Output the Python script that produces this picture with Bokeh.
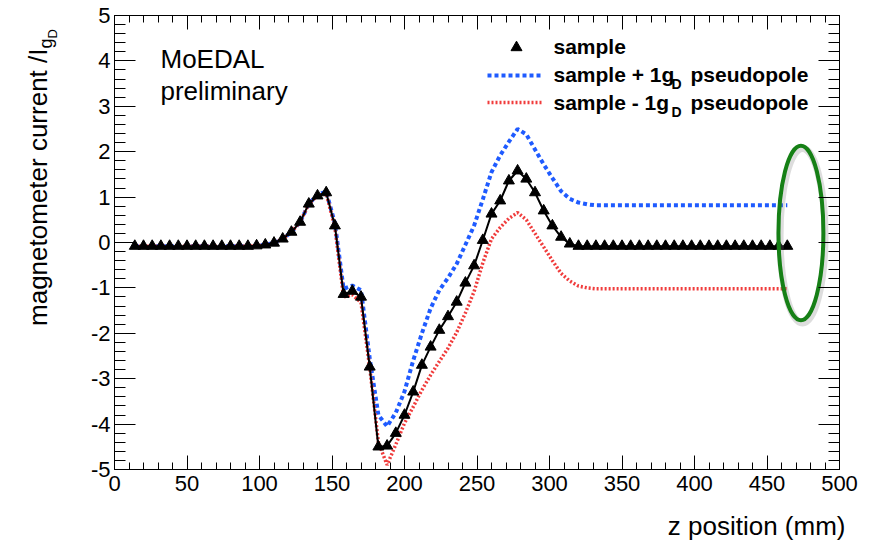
import math
from bokeh.plotting import figure
from bokeh.models import Range1d, LinearAxis, SingleIntervalTicker, Label
from bokeh.embed import file_html
from bokeh.resources import INLINE

# ---------------- data ----------------
z_mm = [14, 20, 26, 32, 38, 44, 50, 56, 62, 68, 74, 80, 86, 92, 98, 104, 110, 116, 122, 128,
        134, 140, 146, 152, 158, 164, 170, 176, 182, 188, 194, 200, 206, 212, 218, 224, 230, 236,
        242, 248, 254, 260, 266, 272, 278, 284, 290, 296, 302, 308, 314, 320, 326, 332, 338, 344,
        350, 356, 362, 368, 374, 380, 386, 392, 398, 404, 410, 416, 422, 428, 434, 440, 446, 452,
        458, 464]

sample = [-0.08, -0.08, -0.08, -0.08, -0.08, -0.08, -0.08, -0.08, -0.08, -0.08, -0.08, -0.08,
          -0.08, -0.08, -0.07, -0.05, -0.01, 0.08, 0.23, 0.45, 0.85, 1.03, 1.10, 0.37, -1.14,
          -1.07, -1.20, -2.74, -4.50, -4.48, -4.20, -3.80, -3.29, -2.70, -2.30, -1.93, -1.63,
          -1.31, -0.89, -0.51, 0.05, 0.63, 0.92, 1.36, 1.58, 1.40, 1.10, 0.70, 0.37, 0.12, -0.03,
          -0.08, -0.08, -0.08, -0.08, -0.08, -0.08, -0.08, -0.08, -0.08, -0.08, -0.08, -0.08,
          -0.08, -0.08, -0.08, -0.08, -0.08, -0.08, -0.08, -0.08, -0.08, -0.08, -0.08, -0.08,
          -0.08]

sample_plus = [-0.08, -0.08, -0.08, -0.08, -0.08, -0.08, -0.08, -0.08, -0.08, -0.08, -0.08, -0.08,
               -0.08, -0.08, -0.07, -0.05, -0.01, 0.08, 0.23, 0.45, 0.85, 1.05, 1.12, 0.42, -1.02,
               -0.95, -1.05, -2.55, -3.80, -4.05, -3.75, -3.28, -2.60, -2.00, -1.45, -1.05, -0.78,
               -0.47, -0.05, 0.37, 0.95, 1.55, 1.92, 2.22, 2.50, 2.38, 2.05, 1.72, 1.42, 1.13, 0.96,
               0.88, 0.84, 0.82, 0.82, 0.82, 0.82, 0.82, 0.82, 0.82, 0.82, 0.82, 0.82, 0.82, 0.82,
               0.82, 0.82, 0.82, 0.82, 0.82, 0.82, 0.82, 0.82, 0.82, 0.82, 0.82]

sample_minus = [-0.08, -0.08, -0.08, -0.08, -0.08, -0.08, -0.08, -0.08, -0.08, -0.08, -0.08, -0.08,
                -0.08, -0.08, -0.07, -0.05, -0.01, 0.08, 0.23, 0.45, 0.85, 1.03, 1.08, 0.33, -1.20,
                -1.15, -1.32, -2.75, -4.40, -4.90, -4.45, -3.98, -3.62, -3.25, -2.92, -2.62, -2.33,
                -1.98, -1.55, -1.08, -0.45, 0.08, 0.33, 0.53, 0.66, 0.50, 0.20, -0.10, -0.40, -0.68,
                -0.85, -0.96, -1.00, -1.02, -1.02, -1.02, -1.02, -1.02, -1.02, -1.02, -1.02, -1.02,
                -1.02, -1.02, -1.02, -1.02, -1.02, -1.02, -1.02, -1.02, -1.02, -1.02, -1.02, -1.02,
                -1.02, -1.02]

x_min, x_max = 0, 500
y_min, y_max = -5, 5
x_tick_labels = {0: "0", 50: "50", 100: "100", 150: "150", 200: "200", 250: "250", 300: "300",
                 350: "350", 400: "400", 450: "450", 500: "500"}
y_tick_labels = {-5: "-5", -4: "-4", -3: "-3", -2: "-2", -1: "-1", 0: "0", 1: "1", 2: "2",
                 3: "3", 4: "4", 5: "5"}

BLUE = "#1f5bff"
RED = "#f03c3c"
GREEN = "#168016"
FONT = "Liberation Sans"

# ---------------- figure ----------------
# the frame covers the whole canvas; the axes are drawn at fixed data locations
W, H = 869, 544
FL, FR, FT, FB = 114, 839, 15, 469          # frame box in pixels
sx = (FR - FL) / (x_max - x_min)
sy = (FB - FT) / (y_max - y_min)
p = figure(width=W, height=H,
           x_range=Range1d(x_min - FL / sx, x_max + (W - FR) / sx),
           y_range=Range1d(y_min - (H - FB) / sy, y_max + FT / sy),
           output_backend="svg", toolbar_location=None,
           x_axis_type=None, y_axis_type=None,
           min_border=0, min_border_left=0, min_border_right=0,
           min_border_top=0, min_border_bottom=0)
p.outline_line_color = None
p.background_fill_color = "white"
p.border_fill_color = "white"


def make_axis(ticker, loc, bounds, tick_in, minor_in, labels, standoff):
    ax = LinearAxis(ticker=ticker, fixed_location=loc, bounds=bounds)
    ax.major_tick_in = tick_in
    ax.major_tick_out = 0
    ax.minor_tick_in = minor_in
    ax.minor_tick_out = 0
    ax.major_tick_line_color = "black"
    ax.minor_tick_line_color = "black"
    ax.axis_line_color = "black"
    ax.major_label_text_font = FONT
    ax.major_label_text_font_size = "22px"
    ax.major_label_standoff = standoff
    if labels is None:
        ax.major_label_text_color = None
        ax.major_label_text_alpha = 0
    else:
        ax.major_label_text_color = "black"
        ax.major_label_overrides = labels
    return ax


xt = SingleIntervalTicker(interval=50, num_minor_ticks=5)
yt = SingleIntervalTicker(interval=1, num_minor_ticks=5)

p.add_layout(make_axis(xt, y_min, (x_min, x_max), 14, 7, x_tick_labels, 6), "below")
p.add_layout(make_axis(xt, y_max, (x_min, x_max), 14, 7, None, 0), "above")
p.add_layout(make_axis(yt, x_min, (y_min, y_max), 21, 11, y_tick_labels, 4), "left")
p.add_layout(make_axis(yt, x_max, (y_min, y_max), 21, 11, None, 0), "right")

# ---------------- curves ----------------
p.line(z_mm, sample_plus, line_color=BLUE, line_width=4, line_dash="4 3")
p.line(z_mm, sample_minus, line_color=RED, line_width=3.5, line_dash="2 2")
p.line(z_mm, sample, line_color="black", line_width=2)
p.scatter(z_mm, sample, marker="triangle", size=11, fill_color="black", line_color="black")

# ---------------- highlight ellipse ----------------
p.ellipse(x=[474.5], y=[0.15], width=[31], height=[3.85], fill_color=None,
          line_color="#777777", line_alpha=0.25, line_width=7)
p.ellipse(x=[473.4], y=[0.21], width=[31], height=[3.85], fill_color=None,
          line_color=GREEN, line_width=4)


def px(xp):   # pixel column -> data x
    return (xp - FL) / sx


def py(yp):   # pixel row -> data y
    return y_max - (yp - FT) / sy


# ---------------- legend (hand built) ----------------
p.scatter([px(516)], [py(47)], marker="triangle", size=11, fill_color="black", line_color="black")
p.line([px(487), px(540)], [py(75), py(75)], line_color=BLUE, line_width=4, line_dash="4 3")
p.line([px(487), px(541)], [py(102), py(102)], line_color=RED, line_width=3.5, line_dash="2 2")

SHIFT = 0.4   # measured offset of the rendered baseline, in em


def lab(xp, yp, text, size, bold=False, align="left"):
    """horizontal text with its baseline at pixel row yp"""
    p.add_layout(Label(x=px(xp), y=py(yp - SHIFT * size), text=text, text_font=FONT,
                       text_font_size=f"{size}px",
                       text_font_style="bold" if bold else "normal", text_align=align,
                       text_baseline="alphabetic", text_color="black"))


def vlab(xp, yp, text, size, align="left"):
    """text rotated 90 deg, baseline at pixel column xp"""
    p.add_layout(Label(x=px(xp - SHIFT * size), y=py(yp), text=text, text_font=FONT,
                       text_font_size=f"{size}px", text_align=align,
                       text_baseline="alphabetic", angle=math.pi / 2, text_color="black"))


lab(553, 54, "sample", 21, bold=True)
lab(553, 82, "sample + 1g", 21, bold=True)
lab(671, 89, "D", 14, bold=True)
lab(690, 82, "pseudopole", 21, bold=True)
lab(553, 110, "sample - 1g", 21, bold=True)
lab(671, 117, "D", 14, bold=True)
lab(690, 110, "pseudopole", 21, bold=True)

# MoEDAL tag
lab(160, 69, "MoEDAL", 26)
lab(160, 101, "preliminary", 26)

# axis titles
lab(845, 536, "z position (mm)", 26, align="right")
vlab(48, 48, "magnetometer current /I", 26, align="right")
vlab(53, 48, "g", 18)
vlab(57, 38, "D", 13)

open("out.html", "w").write(file_html(p, INLINE))
